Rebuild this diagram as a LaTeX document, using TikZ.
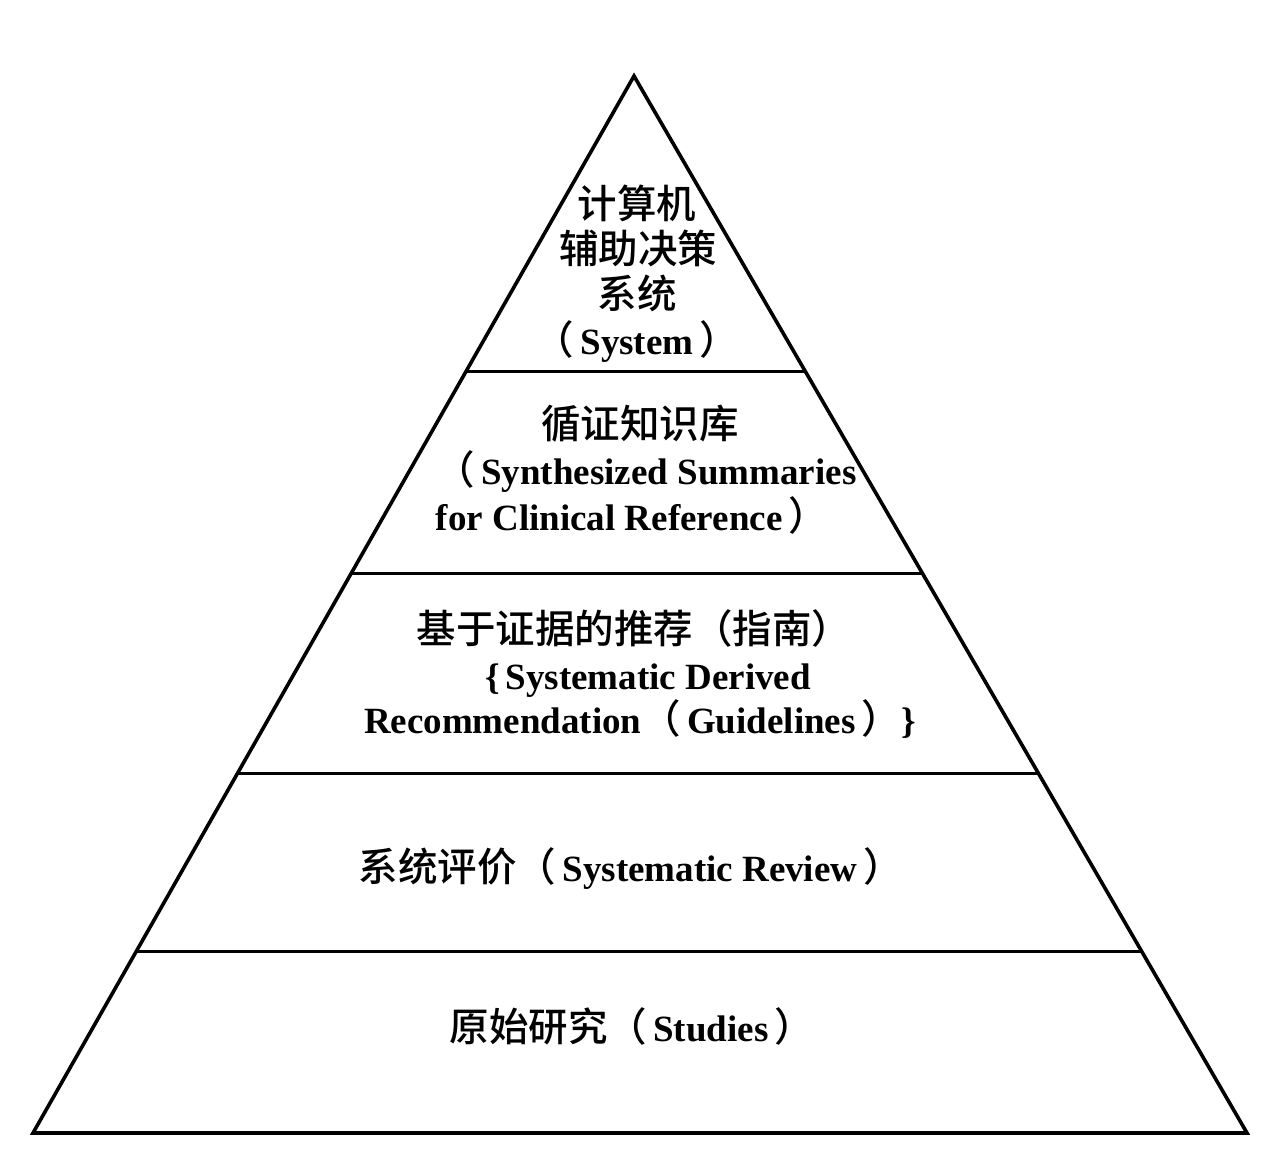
\documentclass[tikz,border=0pt]{standalone}
\usepackage{fontspec}
\setmainfont{Liberation Serif}
\IfFontExistsTF{Noto Sans CJK SC Medium}
  {\newfontfamily\cjk{Noto Sans CJK SC Medium}[BoldFont={Noto Sans CJK SC Medium}]}
  {\newfontfamily\cjk{Noto Sans CJK SC}}
\newcommand\zh[1]{{\cjk\mdseries\fontsize{39.5}{46}\selectfont #1}}
\usetikzlibrary{calc}
\tikzset{
  edge/.style={line width=3.6pt, line join=miter, line cap=rect},
  lbl/.style={inner sep=0pt, anchor=center, text height=26pt, text depth=6pt,
    font=\bfseries\fontsize{37}{44}\selectfont}
}
\begin{document}
\begin{tikzpicture}[x=1pt,y=-1pt]
\useasboundingbox (0,0) rectangle (1280,1151);
\coordinate (apex) at (634,76);
\coordinate (bl) at (33,1133);
\coordinate (br) at (1247,1133);
\draw[edge] (apex) -- (bl) -- (br) -- cycle;
\foreach \t/\n in {0.2791/a,0.4711/b,0.6603/c,0.8287/d}{
  \coordinate (l\n) at ($(apex)!\t!(bl)$);
  \coordinate (r\n) at ($(apex)!\t!(br)$);
  \draw[line width=3pt] (l\n) -- (r\n);
}
% level 1
\node[lbl] (s1a) at (637,208) {\zh{计算机}};
\node[lbl] (s1b) at (638,253) {\zh{辅助决策}};
\node[lbl] (s1c) at (637,298) {\zh{系统}};
\node[lbl] (s1d) at (637,344) {\zh{（}\,System\,\zh{）}};
% level 2
\node[lbl] (s2a) at (640,428) {\zh{循证知识库}};
\node[lbl] (s2b) at (646,474) {\zh{（}\,Synthesized Summaries};
\node[lbl] (s2c) at (632,520) {for Clinical Reference\,\zh{）}};
% level 3
\node[lbl] (s3a) at (634,633) {\zh{基于证据的推荐（指南）}};
\node[lbl] (s3b) at (648,679) {\{\,Systematic Derived};
\node[lbl] (s3c) at (640,723) {Recommendation\zh{（}\,Guidelines\,\zh{）}\}};
% level 4
\node[lbl] (s4) at (631,871) {\zh{系统评价（}\,Systematic Review\,\zh{）}};
% level 5
\node[lbl] (s5) at (632,1031) {\zh{原始研究（}\,Studies\,\zh{）}};
\end{tikzpicture}
\end{document}
